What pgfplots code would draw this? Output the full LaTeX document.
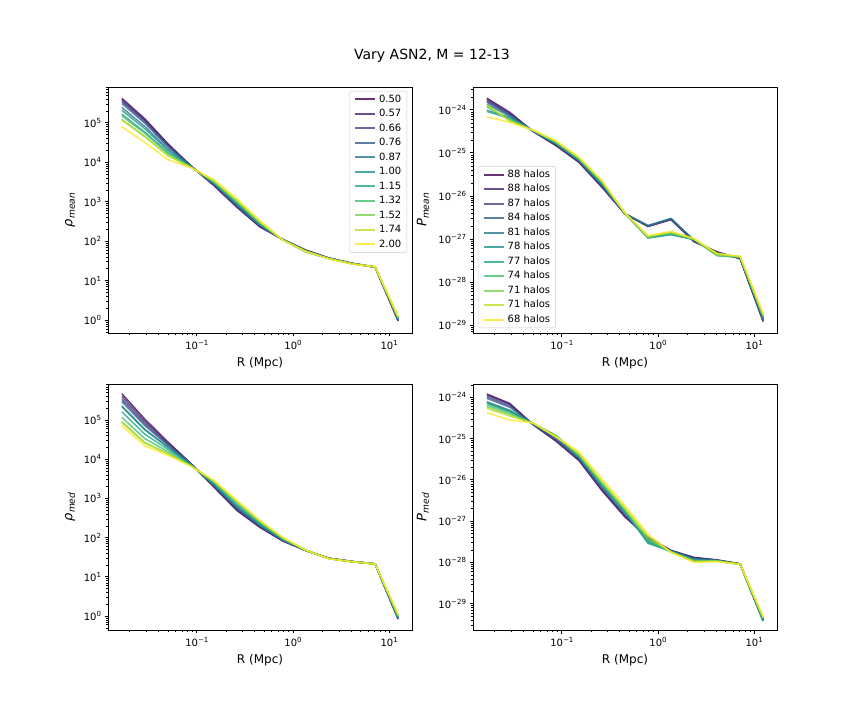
\documentclass[border=0pt]{standalone}
\usepackage{pgfplots}
\pgfplotsset{compat=1.18}
\usepackage{pgfplotstable}
\usepackage{fontspec}
\setmainfont{DejaVu Sans}

\definecolor{vir0}{HTML}{440154}
\definecolor{vir1}{HTML}{482475}
\definecolor{vir2}{HTML}{414487}
\definecolor{vir3}{HTML}{355F8D}
\definecolor{vir4}{HTML}{2A788E}
\definecolor{vir5}{HTML}{21918C}
\definecolor{vir6}{HTML}{22A884}
\definecolor{vir7}{HTML}{44BF70}
\definecolor{vir8}{HTML}{7AD151}
\definecolor{vir9}{HTML}{BDDF26}
\definecolor{vir10}{HTML}{FDE725}

\newcommand{\tlab}[1]{10\raisebox{4pt}{\fontsize{7}{7}\selectfont #1}}
\newcommand{\subs}[1]{\raisebox{-2.6pt}{\fontsize{9.1}{10}\selectfont #1}}

\pgfplotstableread{
x s0 s1 s2 s3 s4 s5 s6 s7 s8 s9 s10
0.0166 4.17e5 3.80e5 3.47e5 3.09e5 2.45e5 2.09e5 1.66e5 1.51e5 1.23e5 1.17e5 7.94e4
0.0288 1.26e5 1.16e5 1.08e5 9.82e4 8.09e4 7.05e4 5.81e4 5.42e4 4.53e4 4.41e4 3.16e4
0.0500 2.95e4 2.81e4 2.67e4 2.50e4 2.20e4 2.00e4 1.76e4 1.68e4 1.49e4 1.47e4 1.17e4
0.0867 8130 8070 8030 7960 7830 7740 7620 7580 7460 7450 7240
0.1505 2570 2620 2670 2740 2870 2970 3120 3170 3320 3340 3630
0.2612 724 745 766 794 851 895 962 986 1054 1064 1202
0.4532 229 234 239 245 258 267 282 287 301 303 331
0.7866 110 110 109 109 108 108 107 107 106 106 105
1.365 58.9 58.5 58.0 57.5 56.5 55.5 54.0 53.0 53.5 54.5 55.5
2.369 37.2 37.1 37.0 36.8 36.6 36.4 36.2 36.1 35.8 35.8 35.5
4.111 27.5 27.4 27.4 27.3 27.1 27.0 26.9 26.8 26.6 26.6 26.3
7.136 21.9 21.9 22.0 22.0 22.1 22.1 22.2 22.2 22.3 22.3 22.4
12.38 0.955 0.97 0.985 1.005 1.04 1.07 1.11 1.13 1.17 1.18 1.26
}\rhomean

\pgfplotstableread{
x s0 s1 s2 s3 s4 s5 s6 s7 s8 s9 s10
0.0166 1.866e-24 1.730e-24 1.614e-24 1.514e-24 1.355e-24 9.84e-25 9.16e-25 1.172e-24 1.239e-24 1.306e-24 6.89e-25
0.0288 8.71e-25 8.26e-25 7.83e-25 7.43e-25 7.05e-25 6.68e-25 6.34e-25 6.01e-25 5.70e-25 5.41e-25 5.13e-25
0.0500 3.16e-25 3.18e-25 3.21e-25 3.23e-25 3.25e-25 3.27e-25 3.30e-25 3.32e-25 3.34e-25 3.37e-25 3.39e-25
0.0867 1.479e-25 1.517e-25 1.556e-25 1.596e-25 1.637e-25 1.679e-25 1.722e-25 1.766e-25 1.811e-25 1.858e-25 1.905e-25
0.1505 6.03e-26 6.19e-26 6.37e-26 6.55e-26 6.73e-26 6.92e-26 7.11e-26 7.31e-26 7.52e-26 7.73e-26 7.94e-26
0.2612 1.585e-26 1.644e-26 1.706e-26 1.770e-26 1.837e-26 1.905e-26 1.977e-26 2.051e-26 2.128e-26 2.208e-26 2.291e-26
0.4532 3.80e-27 3.82e-27 3.84e-27 3.86e-27 3.88e-27 3.90e-27 3.92e-27 3.94e-27 3.96e-27 3.98e-27 4.00e-27
0.7866 1.95e-27 1.97e-27 2.00e-27 2.02e-27 2.05e-27 1.05e-27 1.08e-27 1.10e-27 1.12e-27 1.15e-27 1.18e-27
1.365 2.80e-27 2.85e-27 2.90e-27 2.95e-27 3.00e-27 1.25e-27 1.30e-27 1.35e-27 1.40e-27 1.45e-27 1.50e-27
2.369 8.6e-28 8.8e-28 9.0e-28 9.2e-28 9.4e-28 9.6e-28 9.7e-28 9.8e-28 9.9e-28 1.00e-27 1.02e-27
4.111 5.0e-28 4.9e-28 4.8e-28 4.7e-28 4.5e-28 4.2e-28 4.1e-28 4.1e-28 4.2e-28 4.4e-28 4.6e-28
7.136 3.45e-28 3.50e-28 3.55e-28 3.60e-28 3.65e-28 3.70e-28 3.75e-28 3.80e-28 3.85e-28 3.90e-28 3.95e-28
12.38 1.20e-29 1.25e-29 1.30e-29 1.35e-29 1.40e-29 1.45e-29 1.50e-29 1.58e-29 1.65e-29 1.75e-29 1.86e-29
}\Pmean

\pgfplotstableread{
x s0 s1 s2 s3 s4 s5 s6 s7 s8 s9 s10
0.0166 4.68e5 3.98e5 3.39e5 2.95e5 2.29e5 2.19e5 1.62e5 1.17e5 9.12e4 8.51e4 7.08e4
0.0288 1.047e5 9.16e4 8.02e4 7.19e4 5.78e4 5.60e4 4.36e4 3.34e4 2.68e4 2.56e4 2.19e4
0.0500 2.75e4 2.58e4 2.41e4 2.28e4 2.05e4 2.01e4 1.78e4 1.56e4 1.39e4 1.36e4 1.26e4
0.0867 7760 7660 7550 7460 7290 7280 7100 6900 6750 6710 6610
0.1505 1950 2014 2084 2143 2265 2280 2427 2594 2742 2773 2884
0.2612 490 515 542 565 615 622 685 759 824 839 891
0.4532 182 188 195 201 213 215 230 246 261 264 275
0.7866 81.3 82.8 84.1 85.5 87.9 88.3 91.2 94.6 97.3 97.9 100
1.365 46.5 46.6 46.7 46.8 46.9 47.0 47.1 47.2 47.3 47.4 47.5
2.369 29.8 29.7 29.6 29.5 29.4 29.3 29.2 29.1 29.0 28.9 28.8
4.111 24.6 24.6 24.5 24.5 24.5 24.4 24.4 24.4 24.3 24.3 24.3
7.136 21.4 21.4 21.4 21.4 21.3 21.3 21.3 21.3 21.2 21.2 21.2
12.38 0.83 0.84 0.85 0.87 0.89 0.90 0.93 0.97 1.03 1.06 1.12
}\rhomed

\pgfplotstableread{
x s0 s1 s2 s3 s4 s5 s6 s7 s8 s9 s10
0.0166 1.202e-24 1.138e-24 1.035e-24 9.44e-25 7.82e-25 7.40e-25 7.13e-25 6.49e-25 5.92e-25 5.38e-25 4.22e-25
0.0288 7.08e-25 6.75e-25 6.21e-25 5.73e-25 4.85e-25 4.61e-25 4.47e-25 4.11e-25 3.79e-25 3.49e-25 2.82e-25
0.0500 2.19e-25 2.21e-25 2.23e-25 2.25e-25 2.27e-25 2.29e-25 2.31e-25 2.33e-25 2.35e-25 2.37e-25 2.40e-25
0.0867 8.7e-26 9.0e-26 9.4e-26 9.8e-26 1.08e-25 1.15e-25 1.20e-25 1.18e-25 1.15e-25 1.12e-25 1.10e-25
0.1505 2.95e-26 3.03e-26 3.16e-26 3.30e-26 3.60e-26 3.69e-26 3.76e-26 3.93e-26 4.09e-26 4.28e-26 4.79e-26
0.2612 5.50e-27 5.69e-27 6.04e-27 6.41e-27 7.23e-27 7.50e-27 7.67e-27 8.15e-27 8.63e-27 9.16e-27 1.07e-26
0.4532 1.259e-27 1.303e-27 1.380e-27 1.462e-27 1.641e-27 1.698e-27 1.738e-27 1.841e-27 1.950e-27 2.065e-27 2.399e-27
0.7866 4.1e-28 3.9e-28 3.7e-28 3.5e-28 3.2e-28 2.9e-28 3.1e-28 3.4e-28 3.8e-28 4.3e-28 4.9e-28
1.365 1.95e-28 1.93e-28 1.91e-28 1.89e-28 1.87e-28 1.85e-28 1.83e-28 1.81e-28 1.79e-28 1.77e-28 1.75e-28
2.369 1.32e-28 1.30e-28 1.27e-28 1.24e-28 1.18e-28 1.15e-28 1.13e-28 1.10e-28 1.07e-28 1.04e-28 1.00e-28
4.111 1.15e-28 1.14e-28 1.13e-28 1.12e-28 1.11e-28 1.10e-28 1.09e-28 1.08e-28 1.07e-28 1.06e-28 1.05e-28
7.136 9.2e-29 9.2e-29 9.1e-29 9.1e-29 9.1e-29 9.1e-29 9.0e-29 9.0e-29 9.0e-29 9.0e-29 9.0e-29
12.38 3.98e-30 3.95e-30 3.92e-30 3.90e-30 3.85e-30 3.80e-30 4.0e-30 4.2e-30 4.5e-30 4.7e-30 5.0e-30
}\Pmed

\pgfplotsset{
  every axis/.append style={
    scale only axis, width=304pt, height=246pt,
    axis line style={black, line width=0.8pt},
    tick align=outside, tick pos=left,
    major tick length=3.5pt, minor tick length=2pt,
    tick style={black},
    major tick style={line width=0.8pt},
    minor tick style={line width=0.6pt},
    tick label style={font=\fontsize{10}{12}\selectfont},
    xlabel style={font=\fontsize{12}{14}\selectfont},
    ylabel style={font=\fontsize{13}{15}\selectfont},
    legend cell align=left,
    legend style={draw=black!20, rounded corners=2pt, fill=white,
      font=\fontsize{10}{12}\selectfont, row sep=3pt, column sep=2pt, inner xsep=4.5pt, inner ysep=2.5pt,
      nodes={inner sep=1pt, text height=7.5pt, text depth=2pt}},
  },
}

\begin{document}
\begin{tikzpicture}
\path[use as bounding box] (0,0) rectangle (864pt,720pt);
\node[font=\fontsize{14}{16}\selectfont] at (432pt,664pt) {Vary ASN2, M = 12-13};

% top left
\begin{axis}[at={(108pt,387pt)}, anchor=south west,
  xmode=log, ymode=log, xmin=0.01191, xmax=17.26, ymin=0.47, ymax=8.1e5,
  xtick={0.1,1,10}, xticklabels={\tlab{−1},\tlab{0},\tlab{1}},
  minor xtick={0.02,0.03,0.04,0.05,0.06,0.07,0.08,0.09,0.2,0.3,0.4,0.5,0.6,0.7,0.8,0.9,2,3,4,5,6,7,8,9,20},
  ytick={1,10,100,1000,1e4,1e5},
  yticklabels={\tlab{0},\tlab{1},\tlab{2},\tlab{3},\tlab{4},\tlab{5}},
  minor ytick={0.5,0.6,0.7,0.8,0.9,2,3,4,5,6,7,8,9,20,30,40,50,60,70,80,90,200,300,400,500,600,700,800,900,2000,3000,4000,5000,6000,7000,8000,9000,2e4,3e4,4e4,5e4,6e4,7e4,8e4,9e4,2e5,3e5,4e5,5e5,6e5,7e5,8e5},
  xlabel={R (Mpc)},
  xlabel style={at={(axis description cs:0.5,0)}, anchor=center, yshift=-30pt},
  ylabel={\itshape ρ\subs{mean}},
  ylabel style={at={(axis description cs:0,0.5)}, anchor=center, yshift=38pt},
  legend style={at={(1,1)}, anchor=north east, xshift=-5pt, yshift=-4pt}]
\pgfplotsinvokeforeach{0,...,10}{\addplot[color=vir#1, draw opacity=0.8, line width=1.5pt,
  legend image code/.code={\draw[color=vir#1, draw opacity=0.8, line width=2pt] (0pt,0pt) -- (20pt,0pt);}] table[x=x,y=s#1]{\rhomean};}
\legend{0.50,0.57,0.66,0.76,0.87,1.00,1.15,1.32,1.52,1.74,2.00}
\end{axis}

% top right
\begin{axis}[at={(473pt,387pt)}, anchor=south west,
  xmode=log, ymode=log, xmin=0.01191, xmax=17.26, ymin=6.5e-30, ymax=3.4e-24,
  xtick={0.1,1,10}, xticklabels={\tlab{−1},\tlab{0},\tlab{1}},
  minor xtick={0.02,0.03,0.04,0.05,0.06,0.07,0.08,0.09,0.2,0.3,0.4,0.5,0.6,0.7,0.8,0.9,2,3,4,5,6,7,8,9,20},
  ytick={1e-29,1e-28,1e-27,1e-26,1e-25,1e-24},
  yticklabels={\tlab{−29},\tlab{−28},\tlab{−27},\tlab{−26},\tlab{−25},\tlab{−24}},
  minor ytick={7e-30,8e-30,9e-30,2e-29,3e-29,4e-29,5e-29,6e-29,7e-29,8e-29,9e-29,2e-28,3e-28,4e-28,5e-28,6e-28,7e-28,8e-28,9e-28,2e-27,3e-27,4e-27,5e-27,6e-27,7e-27,8e-27,9e-27,2e-26,3e-26,4e-26,5e-26,6e-26,7e-26,8e-26,9e-26,2e-25,3e-25,4e-25,5e-25,6e-25,7e-25,8e-25,9e-25,2e-24,3e-24},
  xlabel={R (Mpc)},
  xlabel style={at={(axis description cs:0.5,0)}, anchor=center, yshift=-30pt},
  ylabel={\itshape P\subs{mean}},
  ylabel style={at={(axis description cs:0,0.5)}, anchor=center, yshift=50pt},
  legend style={at={(0,0)}, anchor=south west, xshift=5pt, yshift=5pt}]
\pgfplotsinvokeforeach{0,...,10}{\addplot[color=vir#1, draw opacity=0.8, line width=1.5pt,
  legend image code/.code={\draw[color=vir#1, draw opacity=0.8, line width=2pt] (0pt,0pt) -- (20pt,0pt);}] table[x=x,y=s#1]{\Pmean};}
\legend{88 halos,88 halos,87 halos,84 halos,81 halos,78 halos,77 halos,74 halos,71 halos,71 halos,68 halos}
\end{axis}

% bottom left
\begin{axis}[at={(108pt,90pt)}, anchor=south west,
  xmode=log, ymode=log, xmin=0.01191, xmax=17.26, ymin=0.44, ymax=8.3e5,
  xtick={0.1,1,10}, xticklabels={\tlab{−1},\tlab{0},\tlab{1}},
  minor xtick={0.02,0.03,0.04,0.05,0.06,0.07,0.08,0.09,0.2,0.3,0.4,0.5,0.6,0.7,0.8,0.9,2,3,4,5,6,7,8,9,20},
  ytick={1,10,100,1000,1e4,1e5},
  yticklabels={\tlab{0},\tlab{1},\tlab{2},\tlab{3},\tlab{4},\tlab{5}},
  minor ytick={0.5,0.6,0.7,0.8,0.9,2,3,4,5,6,7,8,9,20,30,40,50,60,70,80,90,200,300,400,500,600,700,800,900,2000,3000,4000,5000,6000,7000,8000,9000,2e4,3e4,4e4,5e4,6e4,7e4,8e4,9e4,2e5,3e5,4e5,5e5,6e5,7e5,8e5},
  xlabel={R (Mpc)},
  xlabel style={at={(axis description cs:0.5,0)}, anchor=center, yshift=-30pt},
  ylabel={\itshape ρ\subs{med}},
  ylabel style={at={(axis description cs:0,0.5)}, anchor=center, yshift=38pt}]
\pgfplotsinvokeforeach{0,...,10}{\addplot[color=vir#1, draw opacity=0.8, line width=1.5pt] table[x=x,y=s#1]{\rhomed};}
\end{axis}

% bottom right
\begin{axis}[at={(473pt,90pt)}, anchor=south west,
  xmode=log, ymode=log, xmin=0.01191, xmax=17.26, ymin=2.3e-30, ymax=2.1e-24,
  xtick={0.1,1,10}, xticklabels={\tlab{−1},\tlab{0},\tlab{1}},
  minor xtick={0.02,0.03,0.04,0.05,0.06,0.07,0.08,0.09,0.2,0.3,0.4,0.5,0.6,0.7,0.8,0.9,2,3,4,5,6,7,8,9,20},
  ytick={1e-29,1e-28,1e-27,1e-26,1e-25,1e-24},
  yticklabels={\tlab{−29},\tlab{−28},\tlab{−27},\tlab{−26},\tlab{−25},\tlab{−24}},
  minor ytick={3e-30,4e-30,5e-30,6e-30,7e-30,8e-30,9e-30,2e-29,3e-29,4e-29,5e-29,6e-29,7e-29,8e-29,9e-29,2e-28,3e-28,4e-28,5e-28,6e-28,7e-28,8e-28,9e-28,2e-27,3e-27,4e-27,5e-27,6e-27,7e-27,8e-27,9e-27,2e-26,3e-26,4e-26,5e-26,6e-26,7e-26,8e-26,9e-26,2e-25,3e-25,4e-25,5e-25,6e-25,7e-25,8e-25,9e-25,2e-24},
  xlabel={R (Mpc)},
  xlabel style={at={(axis description cs:0.5,0)}, anchor=center, yshift=-30pt},
  ylabel={\itshape P\subs{med}},
  ylabel style={at={(axis description cs:0,0.5)}, anchor=center, yshift=50pt}]
\pgfplotsinvokeforeach{0,...,10}{\addplot[color=vir#1, draw opacity=0.8, line width=1.5pt] table[x=x,y=s#1]{\Pmed};}
\end{axis}
\end{tikzpicture}
\end{document}
